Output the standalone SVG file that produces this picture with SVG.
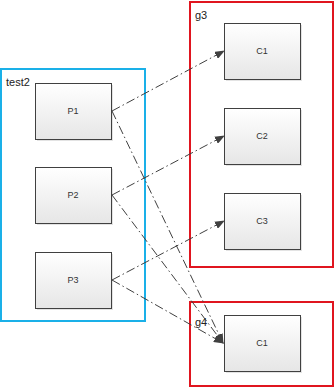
<svg xmlns="http://www.w3.org/2000/svg" width="336" height="387" viewBox="0 0 336 387">
<style>
.grp{fill:none;stroke-width:2}
.node rect.b{stroke:#404040;stroke-width:1;fill:url(#g)}
.node rect.s{fill:#c8c8c8;opacity:0.5}
.lbl{font-family:"Liberation Sans",Arial,sans-serif;font-size:11px;fill:#222}
.nt{font-family:"Liberation Sans",Arial,sans-serif;font-size:9px;fill:#333;text-anchor:middle}
.c{stroke:#404040;stroke-width:1;fill:none;stroke-dasharray:9,3,1.5,3;marker-end:url(#a)}
</style>
<defs>
<linearGradient id="g" x1="0" y1="0" x2="0" y2="1"><stop offset="0" stop-color="#ffffff"/><stop offset="1" stop-color="#e6e6e6"/></linearGradient>
<marker id="a" markerWidth="10" markerHeight="8" refX="9" refY="4" orient="auto" markerUnits="userSpaceOnUse"><path d="M0,0 L10,4 L0,8 Z" fill="#404040"/></marker>
</defs>
<rect width="336" height="387" fill="#fff"/>
<g id="test2">
<rect class="grp" x="1" y="69" width="144" height="252" stroke="#1ab0e8"/>
<text class="lbl" x="6" y="86">test2</text>
</g>
<g id="g3">
<rect class="grp" x="190" y="2" width="143" height="265" stroke="#e0151f"/>
<text class="lbl" x="195" y="19">g3</text>
</g>
<g id="g4">
<rect class="grp" x="190" y="302" width="143" height="84" stroke="#e0151f"/>
<text class="lbl" x="195" y="326">g4</text>
</g>
<g id="P1" class="node"><rect class="s" x="37" y="85" width="76" height="56"/><rect class="b" x="35.5" y="83.5" width="76" height="56"/><text class="nt" x="73" y="114">P1</text></g>
<g id="P2" class="node"><rect class="s" x="37" y="169" width="76" height="56"/><rect class="b" x="35.5" y="167.5" width="76" height="56"/><text class="nt" x="73" y="198">P2</text></g>
<g id="P3" class="node"><rect class="s" x="37" y="254" width="76" height="56"/><rect class="b" x="35.5" y="252.5" width="76" height="56"/><text class="nt" x="73" y="283">P3</text></g>
<g id="C1" class="node"><rect class="s" x="226" y="25" width="76" height="56"/><rect class="b" x="224.5" y="23.5" width="76" height="56"/><text class="nt" x="262" y="54">C1</text></g>
<g id="C2" class="node"><rect class="s" x="226" y="110" width="76" height="56"/><rect class="b" x="224.5" y="108.5" width="76" height="56"/><text class="nt" x="262" y="139">C2</text></g>
<g id="C3" class="node"><rect class="s" x="226" y="195" width="76" height="56"/><rect class="b" x="224.5" y="193.5" width="76" height="56"/><text class="nt" x="262" y="224">C3</text></g>
<g id="C1b" class="node"><rect class="s" x="226" y="317" width="76" height="56"/><rect class="b" x="224.5" y="315.5" width="76" height="56"/><text class="nt" x="262" y="346">C1</text></g>
<g id="connectors">
<path class="c" d="M112,111 L224,51"/>
<path class="c" d="M112,195 L224,136"/>
<path class="c" d="M112,280 L224,221"/>
<path class="c" d="M112,111 L223,343"/>
<path class="c" d="M112,195 L223,343"/>
<path class="c" d="M112,280 L223,343"/>
</g>
</svg>
